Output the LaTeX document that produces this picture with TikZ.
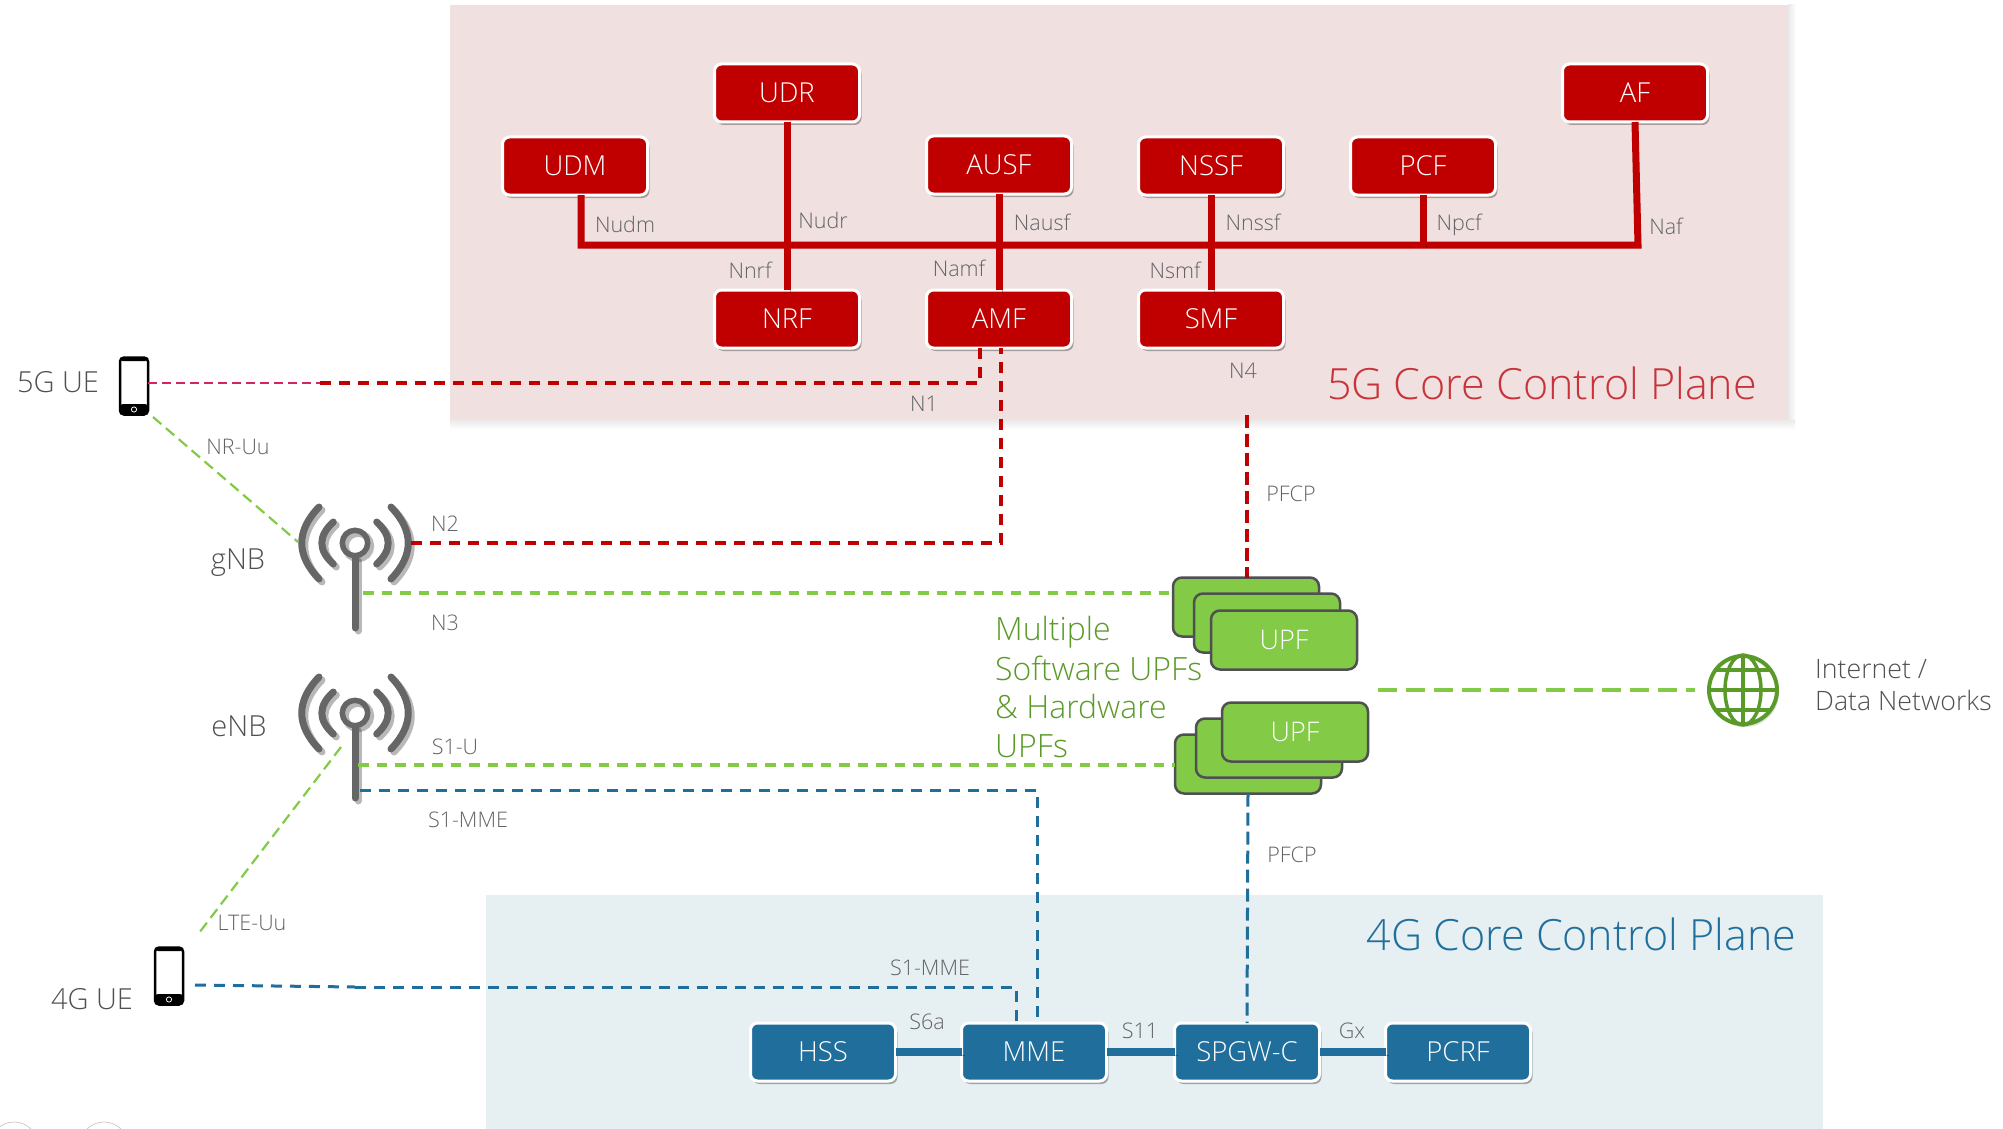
\documentclass[tikz,border=0pt]{standalone}
\usepackage{fontspec}
\setmainfont{Open Sans Light}
\usetikzlibrary{positioning,shadows}

\definecolor{nfred}{HTML}{C00000}
\definecolor{nfpanel}{HTML}{F0E0E0}
\definecolor{ltblue}{HTML}{1F6E9C}
\definecolor{ltpanel}{HTML}{E6EFF1}
\definecolor{upfgreen}{HTML}{83CA47}
\definecolor{upftext}{HTML}{5A9A28}
\definecolor{ifgray}{HTML}{626365}
\definecolor{namegray}{HTML}{4F5052}
\definecolor{uepink}{HTML}{D6245F}
\definecolor{antgray}{HTML}{666666}
\definecolor{titlered}{HTML}{C8333A}

\newcommand{\pxfont}[1]{\fontsize{#1}{#1}\selectfont}

\tikzset{
  boxshadow/.style={drop shadow={shadow xshift=2pt,shadow yshift=-3pt,opacity=.3,fill=black}},
  linkshadow/.style={preaction={draw=black,opacity=.28,transform canvas={shift={(3pt,-3pt)}}}},
  nfbox/.style={rectangle,rounded corners=7pt,draw=white,line width=3pt,fill=nfred,text=white,
    minimum width=145pt,minimum height=58pt,font=\pxfont{27.5},outer sep=0pt,boxshadow},
  ltbox/.style={nfbox,fill=ltblue},
  upfbox/.style={rectangle,rounded corners=9pt,draw=namegray,line width=2.5pt,fill=upfgreen,text=white,
    minimum width=146pt,minimum height=59pt,font=\pxfont{27},outer sep=0pt},
  iflabel/.style={text=ifgray,font=\pxfont{21.5},inner sep=0pt},
  namelabel/.style={text=namegray,font=\pxfont{29},inner sep=0pt},
  bigtitle/.style={font=\pxfont{43},inner sep=0pt},
  busline/.style={draw=nfred,line width=7pt,linkshadow},
  ltlink/.style={draw=ltblue,line width=7.5pt,linkshadow},
  reddash/.style={draw=nfred,line width=3.1pt,dash pattern=on 11pt off 8pt},
  pinkdash/.style={draw=uepink,line width=2.2pt,dash pattern=on 9pt off 5pt},
  bluedash/.style={draw=ltblue,line width=3pt,dash pattern=on 11pt off 8pt},
  greendash/.style={draw=upfgreen,line width=3.1pt,dash pattern=on 10.5pt off 8pt},
  airdash/.style={draw=upfgreen,line width=2.2pt,dash pattern=on 11pt off 6pt},
  longdash/.style={dash pattern=on 13pt off 6pt},
  antenna/.pic={
    \begin{scope}[draw=antgray,line width=7pt,line cap=round]
      \foreach \s in {-1,1} {
        \draw[linkshadow] (\s*36,-36) .. controls (\s*59,-12) and (\s*59,12) .. (\s*36,36);
        \draw[linkshadow] (\s*21.7,-21) .. controls (\s*37,-7) and (\s*37,7) .. (\s*21.7,21);
      }
      \draw[linkshadow,line width=5.5pt] (0,0) circle (12.7);
      \draw[linkshadow] (0,15) -- (0,85);
    \end{scope}
  },
  phone/.pic={
    \node[draw=black,line width=2.5pt,fill=white,rounded corners=4pt,minimum width=28pt,
      minimum height=57pt,inner sep=0pt,outer sep=0pt] (-body) at (0,0) {};
    \fill[black,rounded corners=3pt] (-14,-28.5) rectangle (14,-25);
    \fill[black,rounded corners=3pt] (-14,18) rectangle (14,28.5);
    \draw[white,line width=.8pt] (0,23.5) circle (2.6);
  },
}

\begin{document}
\begin{tikzpicture}[x=1pt,y=-1pt]
  \useasboundingbox (0,0) rectangle (2003,1129);
  % Panels
  \shade[top color=black!9,bottom color=white] (450,419) rectangle (1795,430);
  \shade[left color=black!9,right color=white] (1788,5) rectangle (1796,419);
  \fill[nfpanel] (450,5) rectangle (1788,419);
  \fill[ltpanel] (486,895) rectangle (1823,1129);
  \node[bigtitle,text=titlered] (title5) at (1542,383) {5G Core Control Plane};
  \node[bigtitle,text=ltblue] (title4) at (1581.5,934) {4G Core Control Plane};
  \draw[gray!50,line width=.6pt] (14,1146) circle (24);
  \draw[gray!50,line width=.6pt] (104,1146) circle (24);

  % 5G functions
  \node[nfbox] (nrf) at (787,319) {NRF};
  \node[nfbox, right=67pt of nrf] (amf) {AMF};
  \node[nfbox, right=67pt of amf] (smf) {SMF};
  \node[nfbox] (udm) at (575,166) {UDM};
  \node[nfbox] (udr) at (787,93) {UDR};
  \node[nfbox, above=96pt of amf] (ausf) {AUSF};
  \node[nfbox, above=95pt of smf] (nssf) {NSSF};
  \node[nfbox, right=67pt of nssf] (pcf) {PCF};
  \node[nfbox] (af) at (1635,93) {AF};

  % 4G functions
  \node[ltbox] (hss) at (823,1052) {HSS};
  \node[ltbox, right=66pt of hss] (mme) {MME};
  \node[ltbox, right=68pt of mme] (spgw) {SPGW-C};
  \node[ltbox, right=66pt of spgw] (pcrf) {PCRF};

  % UPF stacks
  \node[upfbox] (upfa) at (1246,607) {};
  \node[upfbox] (upfb) at (1267,623) {};
  \node[upfbox] (upfc) at (1284,640) {UPF};
  \node[upfbox] (upfd) at (1248,764) {};
  \node[upfbox] (upfe) at (1269,748) {};
  \node[upfbox] (upff) at (1295,732) {UPF};

  % Radio side
  \pic at (355,543) {antenna};
  \pic at (355,713) {antenna};
  \pic (uefive) at (134,386) {phone};
  \pic (uefour) at (169,976) {phone};
  \node[namelabel] (uefivename) at (58,382) {5G UE};
  \node[namelabel] (uefourname) at (92,999) {4G UE};
  \node[namelabel] (gnbname) at (238,563) {gNB};
  \node[namelabel] (enbname) at (239,726) {eNB};
  \coordinate (gnbair) at (298,542);
  \coordinate (gnbctrl) at (411,543);
  \coordinate (gnbdata) at (363,593);
  \coordinate (enbair) at (341,747);
  \coordinate (enbdata) at (358,765);
  \coordinate (enbctrl) at (360,790);
  \coordinate (uefiveair) at (153,417);
  \coordinate (uefourair) at (199,933);
  \coordinate (uefourline) at (195,985);
  \coordinate (nonebend) at (320,383);
  \coordinate (uefourbend) at (355,987);

  % Data network
  \node[circle,draw=upftext,line width=4pt,fill=white,minimum size=68pt,inner sep=0pt,outer sep=0pt,
    drop shadow={shadow xshift=2pt,shadow yshift=-3pt,opacity=.12,fill=black}] (globe) at (1743,690) {};
  \draw[upftext,line width=3.5pt] (globe.north) -- (globe.south);
  \draw[upftext,line width=3.5pt] (globe.west) -- (globe.east);
  \draw[upftext,line width=3.5pt] (globe.center) ellipse (18 and 35);
  \draw[upftext,line width=3.5pt] (1743-28.7,670) -- (1743+28.7,670);
  \draw[upftext,line width=3.5pt] (1743-28.7,710) -- (1743+28.7,710);
  \node[namelabel,font=\pxfont{26.7},align=left,anchor=west] (dnname) at (1815,685) {Internet /\\[5pt]Data Networks};
  \node[text=upftext,font=\pxfont{32},align=left,anchor=west,inner sep=0pt] (upfname) at (995,687)
    {Multiple\\[6.5pt]Software UPFs\\[6pt]\& Hardware\\[6.5pt]UPFs};

  \coordinate (buseast) at (1638,245);
  \coordinate (nfourtop) at (1247,415);
  \coordinate (dnwest) at (1378,690);

  % Connect nodes
  \draw[busline] ([xshift=6pt]udm.south) |- (buseast) -- (af.south);
  \draw[busline] (udr.south) -- (nrf.north);
  \draw[busline] (ausf.south) -- (amf.north);
  \draw[busline] (nssf.south) -- (smf.north);
  \draw[busline] (pcf.south) -- (pcf.south |- buseast);
  \draw[ltlink] (hss.east) -- (mme.west);
  \draw[ltlink] (mme.east) -- (spgw.west);
  \draw[ltlink] (spgw.east) -- (pcrf.west);

  \draw[pinkdash] (uefive-body.east |- nonebend) -- (nonebend);
  \draw[reddash] (nonebend) -| ([xshift=-19pt]amf.south);
  \draw[reddash] (gnbctrl) -| ([xshift=2pt]amf.south);
  \draw[reddash,longdash] (nfourtop) -- (nfourtop |- upfa.north);
  \draw[greendash] (gnbdata) -- (gnbdata -| upfa.west);
  \draw[greendash] (enbdata) -- (enbdata -| upfd.west);
  \draw[greendash,line width=4.5pt,dash pattern=on 19pt off 9pt] (dnwest) -- ([xshift=-14pt]globe.west);
  \draw[airdash] (uefiveair) -- (gnbair);
  \draw[airdash] (enbair) -- (uefourair);
  \draw[bluedash] (enbctrl) -| ([xshift=3pt]mme.north);
  \draw[bluedash,longdash] (upfd.south) -- (spgw.north);
  \draw[bluedash] (uefourline) -- (uefourbend);
  \draw[bluedash] (uefourbend) -| ([xshift=-18pt]mme.north);

  % Interface labels
  \node[iflabel] (lnudm) at (625,224) {Nudm};
  \node[iflabel] (lnudr) at (823,220) {Nudr};
  \node[iflabel] (lnausf) at (1042,222) {Nausf};
  \node[iflabel] (lnnssf) at (1253,222) {Nnssf};
  \node[iflabel] (lnpcf) at (1459,225) {Npcf};
  \node[iflabel] (lnaf) at (1666,226) {Naf};
  \node[iflabel] (lnnrf) at (750,270) {Nnrf};
  \node[iflabel] (lnamf) at (959,268) {Namf};
  \node[iflabel] (lnsmf) at (1175,270) {Nsmf};
  \node[iflabel] (lnone) at (924,404) {N1};
  \node[iflabel] (lnfour) at (1243,371) {N4};
  \node[iflabel] (lpfcpa) at (1291,494) {PFCP};
  \node[iflabel] (lpfcpb) at (1292,855) {PFCP};
  \node[iflabel] (lnruu) at (238,447) {NR-Uu};
  \node[iflabel] (lltuu) at (252,923) {LTE-Uu};
  \node[iflabel] (lntwo) at (445,524) {N2};
  \node[iflabel] (lnthree) at (445,623) {N3};
  \node[iflabel] (lsoneu) at (455,747) {S1-U};
  \node[iflabel] (lsonea) at (468,820) {S1-MME};
  \node[iflabel] (lsoneb) at (930,968) {S1-MME};
  \node[iflabel] (lssix) at (927,1022) {S6a};
  \node[iflabel] (lsel) at (1140,1031) {S11};
  \node[iflabel] (lgx) at (1352,1031) {Gx};
\end{tikzpicture}
\end{document}
